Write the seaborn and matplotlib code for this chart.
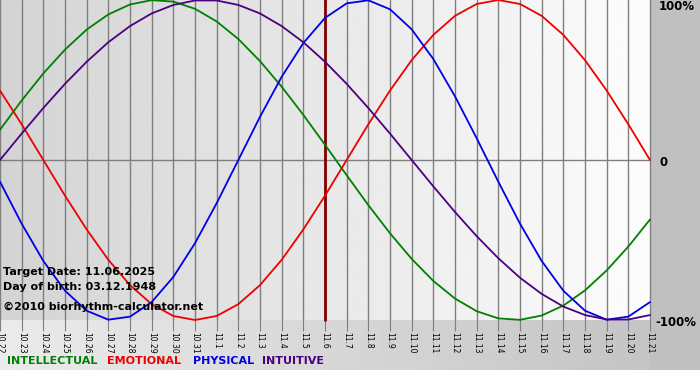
import numpy as np
import pandas as pd
import seaborn as sns
import matplotlib.pyplot as plt

sns.set_style("white")
plt.rcParams["font.family"] = ["DejaVu Sans"]
plt.rcParams["text.color"] = "black"

# tick labels (month.day)
days = ["10.22", "10.23", "10.24", "10.25", "10.26", "10.27", "10.28", "10.29", "10.30", "10.31",
        "11.1", "11.2", "11.3", "11.4", "11.5", "11.6", "11.7", "11.8", "11.9", "11.10",
        "11.11", "11.12", "11.13", "11.14", "11.15", "11.16", "11.17", "11.18", "11.19", "11.20", "11.21"]

# values per day (-1 .. 1)
physical = [-0.136, -0.398, -0.631, -0.817, -0.942, -0.998, -0.979, -0.888, -0.731, -0.520,
            -0.270, 0.0, 0.270, 0.520, 0.731, 0.888, 0.979, 0.998, 0.942, 0.817,
            0.631, 0.398, 0.136, -0.136, -0.398, -0.631, -0.817, -0.942, -0.998, -0.979, -0.888]
emotional = [0.434, 0.223, 0.0, -0.223, -0.434, -0.624, -0.782, -0.901, -0.975, -1.0,
             -0.975, -0.901, -0.782, -0.624, -0.434, -0.223, 0.0, 0.223, 0.434, 0.624,
             0.782, 0.901, 0.975, 1.0, 0.975, 0.901, 0.782, 0.624, 0.434, 0.223, 0.0]
intellectual = [0.189, 0.372, 0.541, 0.690, 0.815, 0.910, 0.972, 0.999, 0.990, 0.945,
                0.866, 0.756, 0.618, 0.458, 0.282, 0.095, -0.095, -0.282, -0.458, -0.618,
                -0.756, -0.866, -0.945, -0.990, -0.999, -0.972, -0.910, -0.815, -0.690, -0.541, -0.372]
intuitive = [0.0, 0.165, 0.325, 0.476, 0.614, 0.736, 0.837, 0.916, 0.969, 0.997,
             0.997, 0.969, 0.916, 0.837, 0.736, 0.614, 0.476, 0.325, 0.165, 0.0,
             -0.165, -0.325, -0.476, -0.614, -0.736, -0.837, -0.916, -0.969, -0.997, -0.997, -0.969]

cycles = ["INTELLECTUAL", "EMOTIONAL", "PHYSICAL", "INTUITIVE"]
colors = {"INTELLECTUAL": "#008000", "EMOTIONAL": "#ee0000",
          "PHYSICAL": "#0000e6", "INTUITIVE": "#4b0082"}
target_idx = days.index("11.6")

rows = []
for name, vals in zip(cycles, [intellectual, emotional, physical, intuitive]):
    for i, v in enumerate(vals):
        rows.append({"day": i, "value": v, "cycle": name})
df = pd.DataFrame(rows)

W, H = 700, 380
fig = plt.figure(figsize=(7, 3.8), dpi=100, facecolor="white")

# background in pixel coordinates
bg = fig.add_axes([0, 0, 1, 1])
bg.set_xlim(0, W)
bg.set_ylim(H, 0)
bg.axis("off")
bg.add_patch(plt.Rectangle((650, 0), 50, 370, color="#c0c0c0", lw=0))
grad = np.linspace(0.92, 0.77, 256).reshape(1, -1)
bg.imshow(grad, extent=(0, 650, 370, 320), cmap="gray", vmin=0, vmax=1, aspect="auto")

ax = fig.add_axes([0, 60 / H, 650 / W, 320 / H])
grad2 = np.linspace(0.83, 0.99, 256).reshape(1, -1)
ax.imshow(grad2, extent=(0, len(days) - 1, -1, 1), cmap="gray", vmin=0, vmax=1,
          aspect="auto", zorder=0)

for x in range(len(days)):
    ax.axvline(x, color="#7f7f7f", lw=1, zorder=1)
ax.axhline(0, color="#7f7f7f", lw=1, zorder=1)
ax.axvline(target_idx, color="#800000", lw=2, zorder=2)

sns.lineplot(data=df, x="day", y="value", hue="cycle", hue_order=cycles,
             palette=colors, lw=1.3, legend=False, ax=ax, zorder=3)
for ln in ax.lines:
    ln.set_clip_on(False)

ax.set_xlim(0, len(days) - 1)
ax.set_ylim(-1, 1)
ax.set_xticks(range(len(days)))
ax.set_xticklabels(days, rotation=270, fontsize=5.5, color="black")
ax.set_yticks([])
ax.tick_params(axis="x", length=8, color="#7f7f7f", pad=1, bottom=True)
ax.set_xlabel("")
ax.set_ylabel("")
for s in ax.spines.values():
    s.set_visible(False)

# overlay for texts
top = fig.add_axes([0, 0, 1, 1])
top.set_xlim(0, W)
top.set_ylim(H, 0)
top.axis("off")
top.patch.set_alpha(0)

# right side labels
top.text(659, 7, "100%", fontsize=8.5, fontweight="bold", va="center", ha="left", color="black")
top.text(659, 162, "0", fontsize=8.5, fontweight="bold", va="center", ha="left", color="black")
top.text(655, 322, "-100%", fontsize=8.5, fontweight="bold", va="center", ha="left", color="black")

# info texts
top.text(3, 272, "Target Date: 11.06.2025", fontsize=8, fontweight="bold", va="center", color="black")
top.text(3, 287, "Day of birth: 03.12.1948", fontsize=8, fontweight="bold", va="center", color="black")
top.text(3, 307, "\u00a92010 biorhythm-calculator.net", fontsize=8, fontweight="bold",
         va="center", color="black")

# legend
for name, x in zip(cycles, [7, 107, 193, 262]):
    top.text(x, 361, name, color=colors[name], fontsize=8, fontweight="bold", va="center")

fig.savefig("out.png", dpi=100, facecolor="white")
